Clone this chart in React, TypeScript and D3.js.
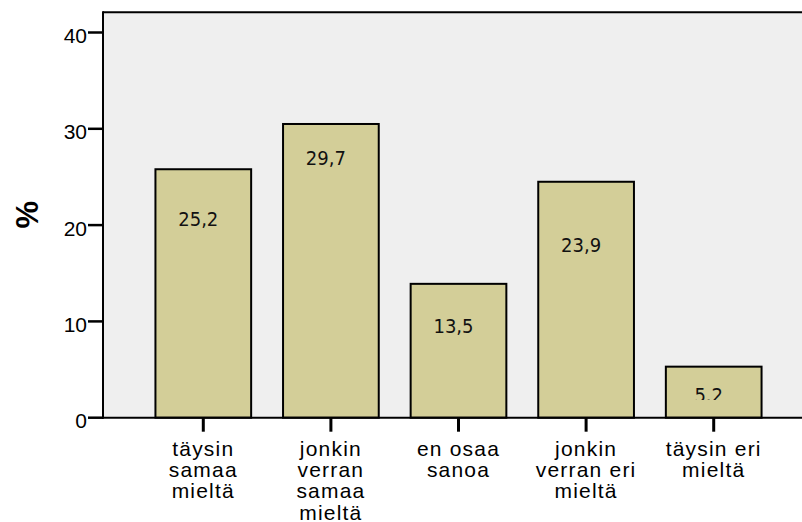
import React from "react";
import * as d3 from "d3";

const categories = [
  "täysin\nsamaa\nmieltä",
  "jonkin\nverran\nsamaa\nmieltä",
  "en osaa\nsanoa",
  "jonkin\nverran eri\nmieltä",
  "täysin eri\nmieltä",
];
const barValues = [25.8, 30.5, 13.9, 24.5, 5.3];
const labelTexts = ["25,2", "29,7", "13,5", "23,9", "5.2"];
const labelAt = [19.9, 26.2, 8.8, 17.2, 1.65];
const yTicks = [0, 10, 20, 30, 40];
const yTickLabels = ["0", "10", "20", "30", "40"];
const yTitle = "%";

const W = 802;
const H = 522;

export default function App() {
  const left = 103;
  const y = d3.scaleLinear().domain([0, 40]).range([417.7, 32.5]);
  const x = d3
    .scaleBand<string>()
    .domain(categories)
    .range([left, 814])
    .paddingInner(0.25)
    .paddingOuter(0.411);
  const top = y(42.1);
  const bottom = y(0);
  const labelClip = y(1.85);
  const fontSans = "'Liberation Sans', Arial, sans-serif";
  const fontLabel = "'DejaVu Sans Condensed', 'DejaVu Sans', sans-serif";

  return (
    <svg
      width={W}
      height={H}
      style={{ position: "fixed", left: 0, top: 0, background: "#fff" }}
    >
      <defs>
        <clipPath id="labclip">
          <rect x={0} y={0} width={W} height={labelClip} />
        </clipPath>
      </defs>
      <rect x={left} y={top} width={W - left + 10} height={bottom - top} fill="#efefef" />
      {barValues.map((v, i) => (
        <rect
          key={i}
          x={x(categories[i])!}
          y={y(v)}
          width={x.bandwidth()}
          height={bottom - y(v)}
          fill="#d3ce98"
          stroke="#000"
          strokeWidth={2}
        />
      ))}
      <g clipPath="url(#labclip)">
        {labelTexts.map((t, i) => (
          <text
            key={i}
            x={x(categories[i])! + x.bandwidth() / 2 - 5}
            y={y(labelAt[i])}
            textAnchor="middle"
            fontFamily={fontLabel}
            fontSize={20}
            fill="#111"
          >
            {t}
          </text>
        ))}
      </g>
      {/* frame */}
      <line x1={left} x2={W + 5} y1={top} y2={top} stroke="#000" strokeWidth={2} />
      <line x1={left} x2={left} y1={top - 1} y2={bottom + 1} stroke="#000" strokeWidth={2} />
      <line x1={left - 1} x2={W + 5} y1={bottom} y2={bottom} stroke="#000" strokeWidth={2} />
      {/* y ticks */}
      {yTicks.map((t, i) => (
        <g key={i}>
          <line x1={left - 15} x2={left} y1={y(t)} y2={y(t)} stroke="#000" strokeWidth={2.5} />
          <text
            x={left - 16}
            y={y(t) + 10.5}
            textAnchor="end"
            fontFamily={fontSans}
            fontSize={21}
            fill="#000"
          >
            {yTickLabels[i]}
          </text>
        </g>
      ))}
      {/* x ticks */}
      {categories.map((c, i) => {
        const cx = x(c)! + x.bandwidth() / 2;
        return (
          <g key={i}>
            <line x1={cx} x2={cx} y1={bottom} y2={bottom + 14} stroke="#000" strokeWidth={3} />
            <text
              x={cx}
              y={455.5}
              textAnchor="middle"
              fontFamily={fontSans}
              fontSize={21}
              letterSpacing={1.2}
              fill="#000"
            >
              {c.split("\n").map((ln, j) => (
                <tspan key={j} x={cx} dy={j === 0 ? 0 : 21.4}>
                  {ln}
                </tspan>
              ))}
            </text>
          </g>
        );
      })}
      <text
        transform={`translate(27,${214.7}) rotate(-90)`}
        textAnchor="middle"
        dominantBaseline="central"
        fontFamily={fontSans}
        fontWeight="bold"
        fontSize={31}
        fill="#000"
      >
        {yTitle}
      </text>
    </svg>
  );
}
